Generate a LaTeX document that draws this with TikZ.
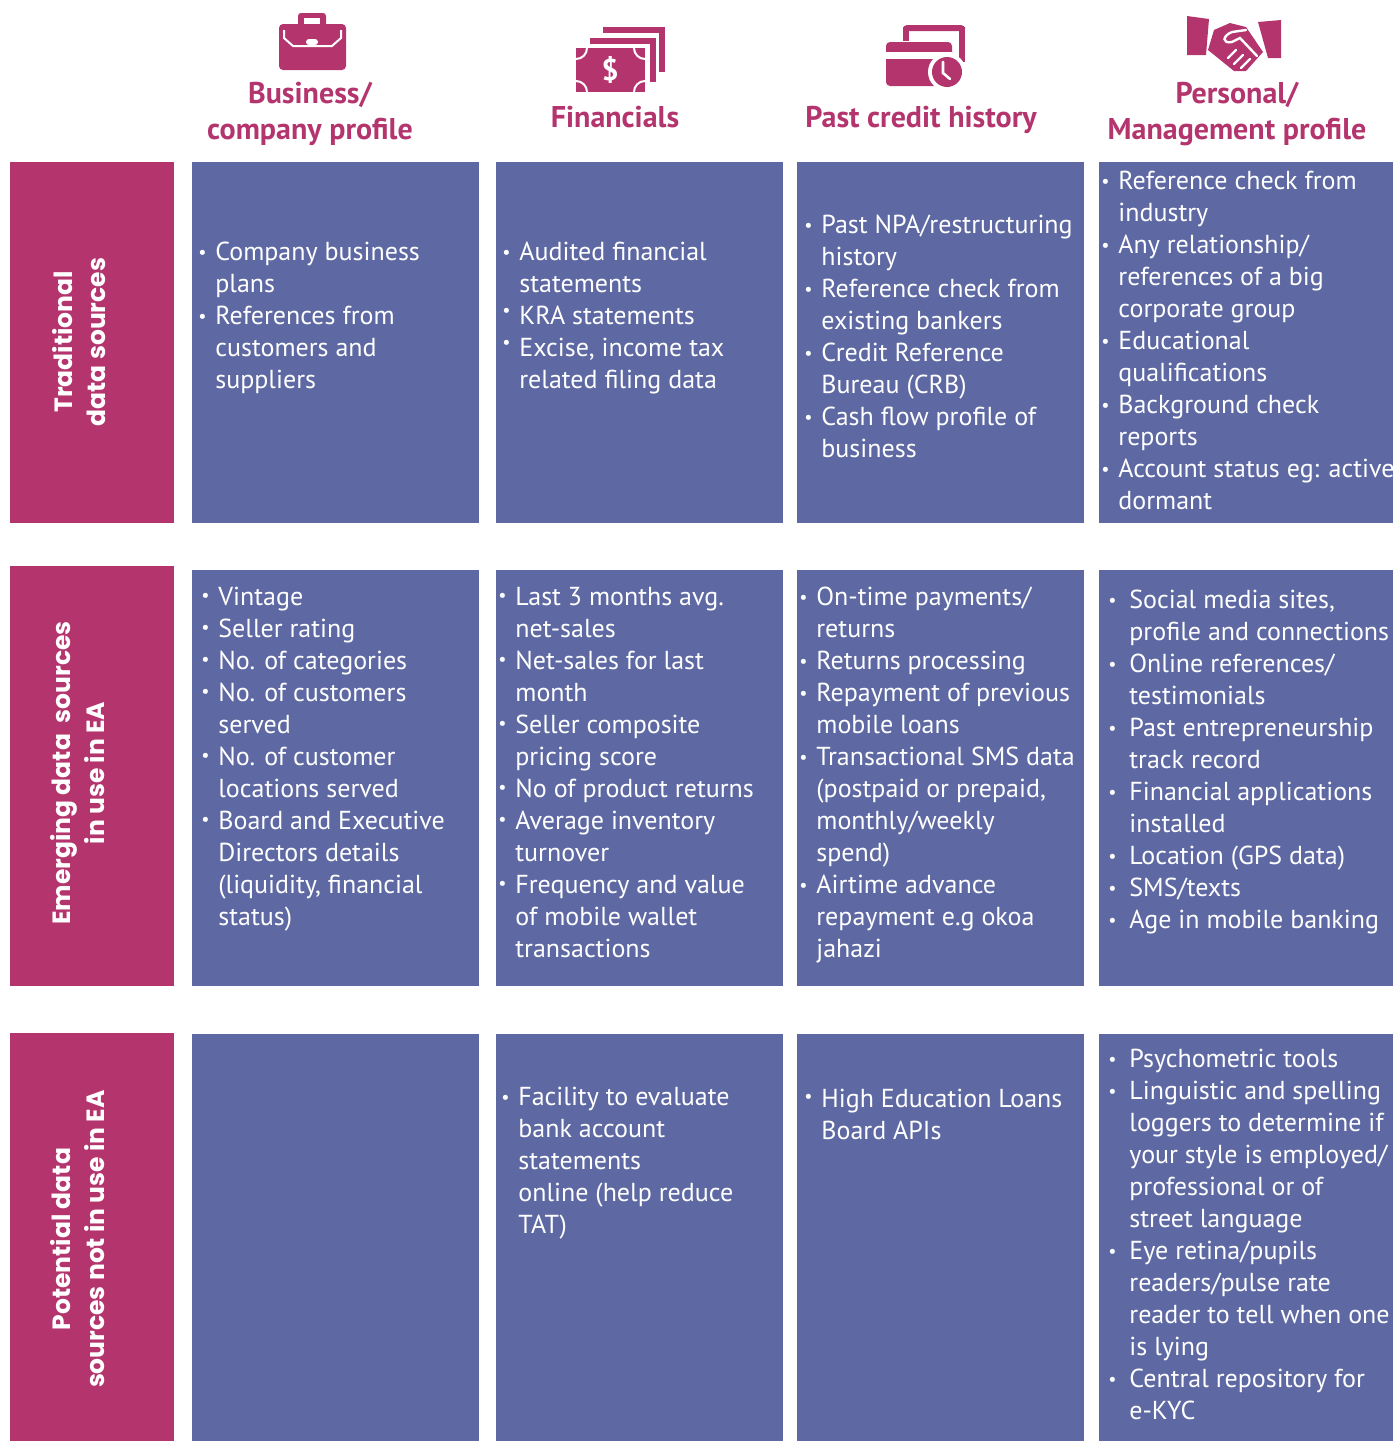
\documentclass[tikz,border=0pt]{standalone}
\usepackage{fontspec}
\usepackage{graphicx}
\setmainfont{PT Sans}
\newfontfamily\rowfont{Poppins}
\definecolor{srcmag}{HTML}{B4356E}
\definecolor{srcblue}{HTML}{5E69A3}
% bullet, hung left of the text
\newcommand{\bul}[1][0.6pt]{\llap{\raisebox{#1}{\scalebox{0.7}{\textbullet}}\hspace{4.4pt}}}
\newcommand{\bulw}{\llap{\raisebox{0.6pt}{\scalebox{0.7}{\textbullet}}\hspace{6.4pt}}}

\begin{document}
\begin{tikzpicture}[x=0.5pt,y=-0.5pt,lab/.style={fill=srcmag},cell/.style={fill=srcblue},icon/.style={fill=srcmag},
  head/.style={anchor=base,inner sep=0pt,text=srcmag,font=\fontsize{15}{18}\selectfont\bfseries},
  rowlab/.style={anchor=base,inner sep=0pt,rotate=90,text=white,font=\rowfont\fontsize{12.5}{17}\selectfont\bfseries},
  txt/.style={anchor=base west,inner sep=0pt,text=white,font=\fontsize{13}{16}\selectfont}]

\useasboundingbox (0,0) rectangle (1393,1441);

% boxes
\fill[lab] (10,162) rectangle (174,523);
\fill[lab] (10,566) rectangle (174,986);
\fill[lab] (10,1033) rectangle (174,1441);
\foreach \xa/\xb in {192/479,496/783,797/1084,1099/1393}{
  \fill[cell] (\xa,162) rectangle (\xb,523);
  \fill[cell] (\xa,570) rectangle (\xb,986);
  \fill[cell] (\xa,1034) rectangle (\xb,1441);
}

% icons
\fill[icon,rounded corners=1.5pt] (298,13) rectangle (326,27);
\fill[white] (304,18) rectangle (320,24);
\fill[icon,rounded corners=2pt] (279,24) rectangle (346,70);
\draw[white,line width=1pt] (284,30) -- (284,38) -- (293,46) -- (332,46) -- (341,38) -- (341,30);
\fill[white,rounded corners=1.5pt] (306,39) rectangle (318,45);

\fill[icon] (603,27) rectangle (665,33);
\fill[icon] (659,27) rectangle (665,72);
\fill[icon] (590,38) rectangle (656,44);
\fill[icon] (650,38) rectangle (656,82);
\fill[icon] (576,48) rectangle (645,92);
\begin{scope}
  \clip (576,48) rectangle (645,92);
  \foreach \cx/\cy in {576/48,645/48,576/92,645/92}
    \draw[white,line width=1pt] (\cx,\cy) circle (11);
\end{scope}
\node[text=white,inner sep=0pt,font=\fontsize{15}{15}\selectfont\bfseries] (dollar) at (610,70) {\$};

\fill[icon,rounded corners=2pt] (903,25) rectangle (965,31);
\fill[icon] (959,27) rectangle (965,62);
\fill[icon] (903,27) rectangle (909,41);
\fill[icon,rounded corners=2pt] (886,42) rectangle (952,86);
\fill[white] (886,52) rectangle (952,59);
\fill[white] (947,72) circle (19);
\fill[icon] (947,72) circle (15);
\draw[white,line width=1.3pt,line cap=round] (943,62) -- (943,73) -- (950,79);

\fill[icon] (1187,16) -- (1209,19) -- (1206,55) -- (1187,55) -- cycle;
\fill[icon] (1258,22) -- (1281,20) -- (1281,58) -- (1268,58) -- cycle;
\fill[icon] (1214,30) -- (1230,23) -- (1246,27) -- (1263,52) -- (1246,71) -- (1234,71) -- (1208,50) -- cycle;
\draw[white,line width=1.2pt,line cap=round] (1246,30) -- (1232,32) .. controls (1222,36) and (1222,44) .. (1232,42) -- (1240,38) -- (1257,56);
\draw[white,line width=1.2pt,line cap=round] (1228,58) -- (1236,50) (1234,64) -- (1243,55) (1241,68) -- (1250,59);

% column heads
\node[head] (hbus) at (310,103) {\begin{tabular}[t]{@{}c@{}}Business/\\company profile\end{tabular}};
\node[head] (hfin) at (615,127) {Financials};
\node[head] (hpch) at (921,127) {Past credit history};
\node[head] (hper) at (1237,103) {\begin{tabular}[t]{@{}c@{}}Personal/\\Management profile\end{tabular}};

% row heads
\node[rowlab] (ltrad) at (72,342) {\begin{tabular}[t]{@{}c@{}}Traditional\\data sources\end{tabular}};
\node[rowlab] (lemer) at (70,773) {\begin{tabular}[t]{@{}c@{}}Emerging data~ sources\\in use in EA\end{tabular}};
\node[rowlab] (lpot) at (70,1239) {\begin{tabular}[t]{@{}c@{}}Potential data\\sources not in use in EA\end{tabular}};

% traditional
\node[txt] (t1) at (215,260) {\begin{tabular}[t]{@{}l@{}}\bul Company business\\plans\\\bul References from\\customers and\\suppliers\end{tabular}};
\node[txt] (t2) at (519,260) {\begin{tabular}[t]{@{}l@{}}\bul Audited financial\\statements\\\bul[4pt]KRA statements\\\bul[4pt]Excise, income tax\\related filing data\end{tabular}};
\node[txt] (t3) at (821,233) {\begin{tabular}[t]{@{}l@{}}\bul Past NPA/restructuring\\history\\\bul Reference check from\\existing bankers\\\bul Credit Reference\\Bureau (CRB)\\\bul Cash flow profile of\\business\end{tabular}};
\node[txt] (t4) at (1118,189) {\begin{tabular}[t]{@{}l@{}}\bul Reference check from\\industry\\\bul Any relationship/\\references of a big\\corporate group\\\bul Educational\\qualifications\\\bul Background check\\reports\\\bul Account status eg: active\\dormant\end{tabular}};

% emerging
\node[txt] (e1) at (218,605) {\begin{tabular}[t]{@{}l@{}}\bul[2pt]Vintage\\\bul[2pt]Seller rating\\\bul[2pt]No. of categories\\\bul[2pt]No. of customers\\served\\\bul[2pt]No. of customer\\locations served\\\bul[2pt]Board and Executive\\Directors details\\(liquidity, financial\\status)\end{tabular}};
\node[txt] (e2) at (515,605) {\begin{tabular}[t]{@{}l@{}}\bul[2pt]Last 3 months avg.\\net-sales\\\bul[2pt]Net-sales for last\\month\\\bul[2pt]Seller composite\\pricing score\\\bul[2pt]No of product returns\\\bul[2pt]Average inventory\\turnover\\\bul[2pt]Frequency and value\\of mobile wallet\\transactions\end{tabular}};
\node[txt] (e3) at (816,605) {\begin{tabular}[t]{@{}l@{}}\bul On-time payments/\\returns\\\bul Returns processing\\\bul Repayment of previous\\mobile loans\\\bul Transactional SMS data\\(postpaid or prepaid,\\monthly/weekly\\spend)\\\bul Airtime advance\\repayment e.g okoa\\jahazi\end{tabular}};
\node[txt] (e4) at (1129,608) {\begin{tabular}[t]{@{}l@{}}\bulw Social media sites,\\profile and connections\\\bulw Online references/\\testimonials\\\bulw Past entrepreneurship\\track record\\\bulw Financial applications\\installed\\\bulw Location (GPS data)\\\bulw SMS/texts\\\bulw Age in mobile banking\end{tabular}};

% potential
\node[txt] (p2) at (518,1105) {\begin{tabular}[t]{@{}l@{}}\bul Facility to evaluate\\bank account\\statements\\online (help reduce\\TAT)\end{tabular}};
\node[txt] (p3) at (821,1107) {\begin{tabular}[t]{@{}l@{}}\bul[2.5pt]High Education Loans\\Board APIs\end{tabular}};
\node[txt] (p4) at (1129,1067) {\begin{tabular}[t]{@{}l@{}}\bulw Psychometric tools\\\bulw Linguistic and spelling\\loggers to determine if\\your style is employed/\\professional or of\\street language\\\bulw Eye retina/pupils\\readers/pulse rate\\reader to tell when one\\is lying\\\bulw Central repository for\\e-KYC\end{tabular}};
\end{tikzpicture}
\end{document}
